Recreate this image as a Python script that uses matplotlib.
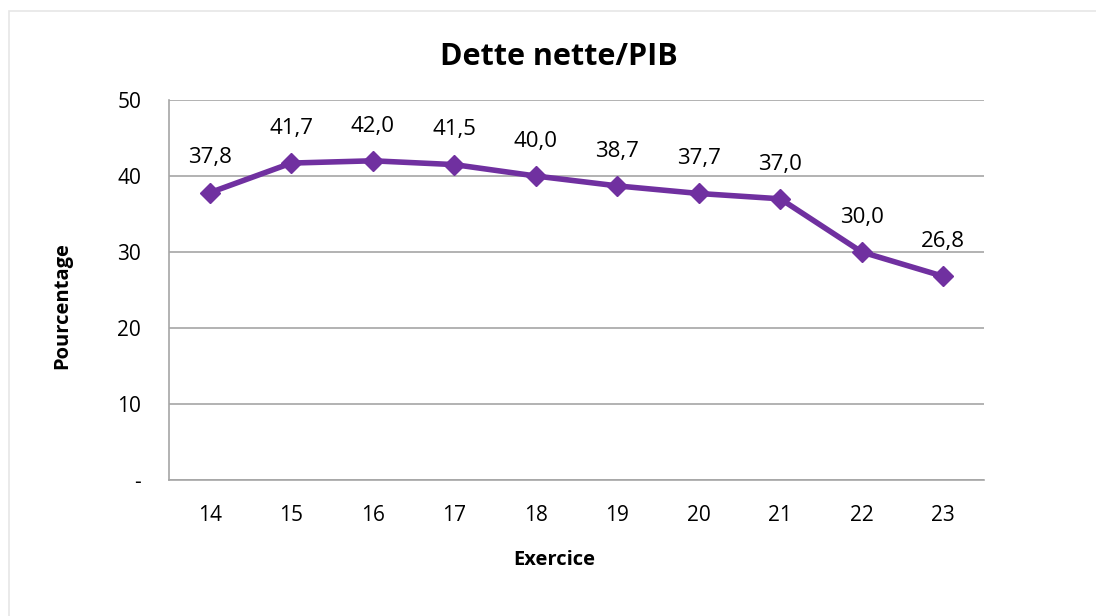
import matplotlib.pyplot as plt
from matplotlib.patches import Rectangle

# data
exercices = ['14', '15', '16', '17', '18', '19', '20', '21', '22', '23']
dette_pib = [37.8, 41.7, 42.0, 41.5, 40.0, 38.7, 37.7, 37.0, 30.0, 26.8]
y_ticks = [0, 10, 20, 30, 40, 50]
y_tick_labels = ['-', '10', '20', '30', '40', '50']

plt.rcParams['font.family'] = ['Open Sans', 'DejaVu Sans']

fig = plt.figure(figsize=(10.96, 6.16), dpi=100)
fig.patches.append(Rectangle((9 / 1096, -0.1), 1.2, 1 - 11 / 616 + 0.1,
                             transform=fig.transFigure, fill=False,
                             edgecolor='#e6e6e6', linewidth=1.2))

ax = fig.add_axes([169 / 1096, 1 - 480 / 616, 815 / 1096, 380 / 616])
x = list(range(len(exercices)))
ax.plot(x, dette_pib, color='#7030a0', linewidth=4, marker='D',
        markersize=10, zorder=3)

for xi, v in zip(x, dette_pib):
    ax.annotate(f'{v:.1f}'.replace('.', ','), (xi, v), xytext=(0, 25),
                textcoords='offset points', ha='center', va='center',
                fontsize=16)

ax.set_xlim(-0.5, len(exercices) - 0.5)
ax.set_ylim(0, 50)
ax.set_xticks(x)
ax.set_xticklabels(exercices, fontsize=15)
ax.set_yticks(y_ticks)
ax.set_yticklabels(y_tick_labels, fontsize=15)
ax.tick_params(length=0)
ax.tick_params(axis='x', pad=18)
ax.tick_params(axis='y', pad=20)
ax.grid(axis='y', color='#a6a6a6', linewidth=1.2)
ax.set_axisbelow(True)
for side in ['top', 'right']:
    ax.spines[side].set_visible(False)
for side in ['left', 'bottom']:
    ax.spines[side].set_color('#a6a6a6')
    ax.spines[side].set_linewidth(1.2)

ax.set_xlabel('Exercice', fontsize=14.5, fontweight='bold', va='center')
ax.xaxis.set_label_coords((554 - 169) / 815, (480 - 560) / 380)
ax.set_ylabel('Pourcentage', fontsize=14.5, fontweight='bold', va='center')
ax.yaxis.set_label_coords((62 - 169) / 815, (480 - 306) / 380)
fig.text(559 / 1096, 1 - 57 / 616, 'Dette nette/PIB', ha='center', va='center',
         fontsize=22, fontweight='bold')

fig.savefig('out.png', dpi=100)
